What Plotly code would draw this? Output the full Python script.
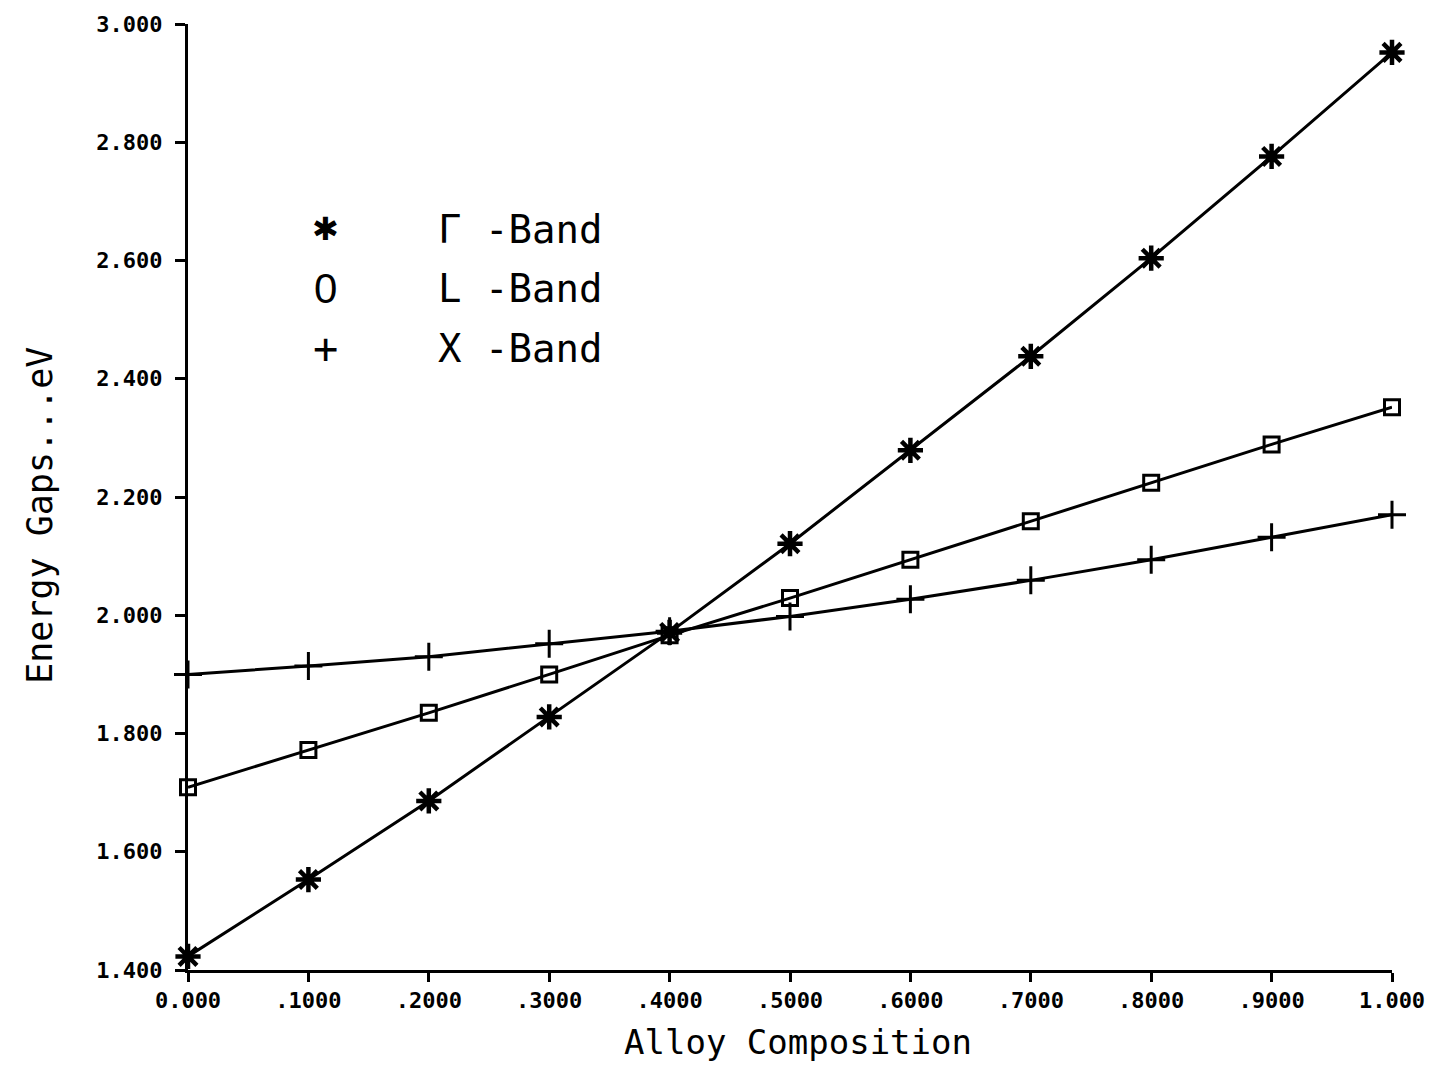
import plotly.graph_objects as go

# Band-gap energies versus alloy composition
composition = [0.0, 0.1, 0.2, 0.3, 0.4, 0.5, 0.6, 0.7, 0.8, 0.9, 1.0]
gamma_band = [1.423, 1.553, 1.686, 1.828, 1.971, 2.121, 2.279, 2.438, 2.604, 2.776, 2.952]
l_band = [1.709, 1.772, 1.835, 1.900, 1.966, 2.029, 2.094, 2.159, 2.224, 2.289, 2.352]
x_band = [1.900, 1.914, 1.930, 1.952, 1.973, 1.998, 2.027, 2.059, 2.094, 2.132, 2.170]

x_tickvals = [0.0, 0.1, 0.2, 0.3, 0.4, 0.5, 0.6, 0.7, 0.8, 0.9, 1.0]
x_ticktext = ["0.000", ".1000", ".2000", ".3000", ".4000", ".5000",
              ".6000", ".7000", ".8000", ".9000", "1.000"]
y_tickvals = [1.4, 1.6, 1.8, 2.0, 2.2, 2.4, 2.6, 2.8, 3.0]
y_ticktext = ["1.400", "1.600", "1.800", "2.000", "2.200",
              "2.400", "2.600", "2.800", "3.000"]

legend_symbols = ["\u2731", "0", "+"]
legend_labels = ["\u0393 -Band", "L -Band", "X -Band"]

W, H = 1437, 1067
ML, MR, MT, MB = 188, 45, 16, 97
MONO = "DejaVu Sans Mono"


def px_x(px):
    return (px - ML) / (W - ML - MR)


def px_y(py):
    return (H - MB - py) / (H - MT - MB)


fig = go.Figure()

line_style = dict(color="black", width=3)
fig.add_trace(go.Scatter(
    x=composition, y=gamma_band, mode="lines+markers", line=line_style,
    marker=dict(symbol="asterisk-open", size=21, color="black",
                line=dict(color="black", width=4.5)),
    cliponaxis=False, showlegend=False))
fig.add_trace(go.Scatter(
    x=composition, y=l_band, mode="lines+markers", line=line_style,
    marker=dict(symbol="square-open", size=15, color="black",
                line=dict(color="black", width=3)),
    cliponaxis=False, showlegend=False))
fig.add_trace(go.Scatter(
    x=composition, y=x_band, mode="lines+markers", line=line_style,
    marker=dict(symbol="cross-thin-open", size=20, color="black",
                line=dict(color="black", width=3)),
    cliponaxis=False, showlegend=False))

annotations = []
row_y = [223, 283, 343]
symbol_fonts = [
    dict(family="DejaVu Sans", size=32),
    dict(family="Liberation Sans Narrow, Liberation Sans", size=42),
    dict(family=MONO, size=42),
]
for sym, lab, ry, sf in zip(legend_symbols, legend_labels, row_y, symbol_fonts):
    annotations.append(dict(
        text=sym, x=px_x(325), y=px_y(ry), xref="paper", yref="paper",
        xanchor="center", yanchor="middle", showarrow=False,
        font=dict(color="black", **sf)))
    annotations.append(dict(
        text=lab, x=px_x(436), y=px_y(ry), xref="paper", yref="paper",
        xanchor="left", yanchor="middle", showarrow=False,
        font=dict(family=MONO, size=39, color="black")))

annotations.append(dict(
    text="Alloy Composition", x=px_x(798), y=px_y(1043),
    xref="paper", yref="paper", xanchor="center", yanchor="middle",
    showarrow=False, font=dict(family=MONO, size=34, color="black")))
annotations.append(dict(
    text="Energy Gaps...eV", x=px_x(40), y=px_y(512),
    xref="paper", yref="paper", xanchor="center", yanchor="middle",
    textangle=-90, showarrow=False,
    font=dict(family=MONO, size=35, color="black")))

tick_font = dict(family=MONO, size=22, color="black", weight="bold")

fig.update_layout(
    width=W, height=H,
    margin=dict(l=ML, r=MR, t=MT, b=MB, pad=0),
    paper_bgcolor="white", plot_bgcolor="white",
    annotations=annotations,
    xaxis=dict(
        range=[0, 1], tickmode="array", tickvals=x_tickvals, ticktext=x_ticktext,
        showline=True, linecolor="black", linewidth=3, mirror=False,
        ticks="outside", ticklen=9, tickwidth=3, tickcolor="black",
        showgrid=False, zeroline=False, tickfont=tick_font,
    ),
    yaxis=dict(
        range=[1.4, 3.0], tickmode="array", tickvals=y_tickvals, ticktext=y_ticktext,
        showline=True, linecolor="black", linewidth=3, mirror=False,
        ticks="outside", ticklen=10, tickwidth=3, tickcolor="black",
        showgrid=False, zeroline=False, tickfont=tick_font,
        ticklabelstandoff=8,
    ),
)

fig.write_html("out.html")
